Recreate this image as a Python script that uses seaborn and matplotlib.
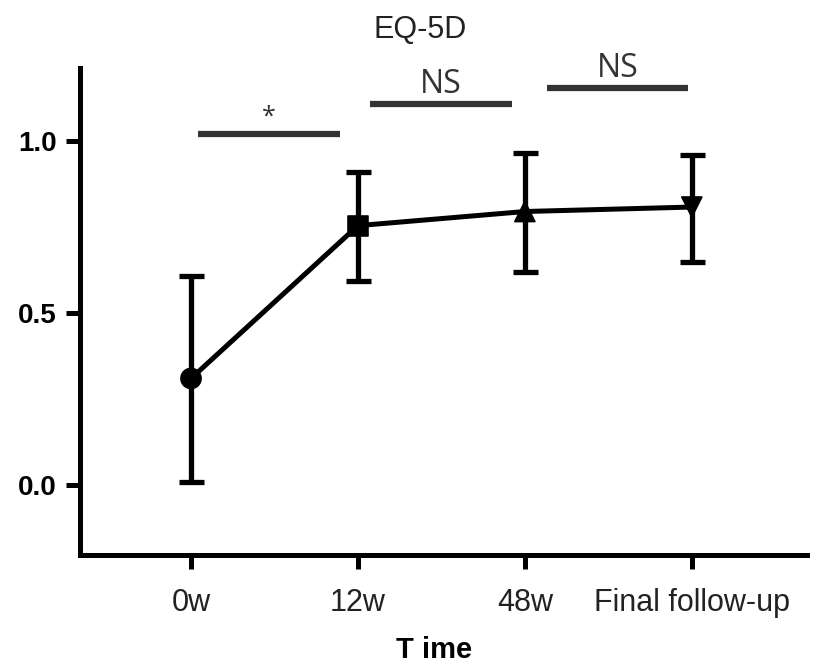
import matplotlib
matplotlib.use("Agg")
import matplotlib.pyplot as plt
import matplotlib.transforms as mtransforms
import seaborn as sns
import pandas as pd

# ---- data ----
timepoints = ["0w", "12w", "48w", "Final follow-up"]
means = [0.31, 0.754, 0.795, 0.808]
upper = [0.608, 0.911, 0.965, 0.960]
lower = [0.009, 0.593, 0.619, 0.648]
markers = ["o", "s", "^", "v"]
sig_labels = ["*", "NS", "NS"]
sig_y = [1.020, 1.108, 1.154]
sig_x0 = [0.04, 1.07, 2.13]
sig_x1 = [0.89, 1.92, 2.98]
yticks = [0.0, 0.5, 1.0]

sns.set_theme(style="white")
plt.rcParams['font.family'] = ['Liberation Sans', 'DejaVu Sans']

fig = plt.figure(figsize=(8.16, 6.68), dpi=100)
ax = fig.add_axes([80/816, 1-555/668, (807-80)/816, (555-68)/668])

pos = list(range(len(timepoints)))
df = pd.DataFrame({"pos": pos, "mean": means, "tp": timepoints})

yerr = [[m - l for m, l in zip(means, lower)], [u - m for u, m in zip(upper, means)]]
ax.errorbar(pos, means, yerr=yerr, fmt="none", ecolor="black", elinewidth=3.8,
            capsize=9, capthick=3.8, zorder=2)
sns.lineplot(data=df, x="pos", y="mean", color="black", lw=3.6, ax=ax, zorder=3)
sns.scatterplot(data=df, x="pos", y="mean", style="tp", markers=dict(zip(timepoints, markers)),
                color="black", s=210, edgecolor="black", legend=False, ax=ax, zorder=4)

for lab, y, x0, x1 in zip(sig_labels, sig_y, sig_x0, sig_x1):
    ax.plot([x0, x1], [y, y], color="#333333", lw=4.5, solid_capstyle="butt", zorder=2)
    if lab == "*":
        ax.text((x0 + x1) / 2, y + 0.012, lab, ha="center", va="bottom", fontsize=18,
                color="#333333", family=["Open Sans", "DejaVu Sans"])
    else:
        ax.text((x0 + x1) / 2, y + 0.008, lab, ha="center", va="bottom", fontsize=23,
                color="#333333", family=["Open Sans", "DejaVu Sans"])

ax.set_xlim(-0.665, 3.69)
ax.set_ylim(-0.203, 1.212)
ax.set_xticks(pos)
ax.set_xticklabels(timepoints, fontsize=22, color="#222222")
ax.set_yticks(yticks)
ax.set_yticklabels([f"{v:.1f}" for v in yticks], fontsize=20, fontweight="bold", color="black")
ax.set_xlabel("")
ax.set_ylabel("")

# the last tick label sits slightly right of its tick in the reference
last = ax.get_xticklabels()[-1]
last.set_transform(last.get_transform() + mtransforms.ScaledTranslation(16/100, 0, fig.dpi_scale_trans))

for side in ["top", "right"]:
    ax.spines[side].set_visible(False)
for side in ["left", "bottom"]:
    ax.spines[side].set_linewidth(3.6)
    ax.spines[side].set_color("black")
ax.tick_params(axis="both", direction="out", length=10, width=3.6, color="black", left=True, bottom=True)
ax.tick_params(axis="x", pad=14)
ax.tick_params(axis="y", pad=7)

fig.text(420/816, 1-30/668, "EQ-5D", ha="center", va="center", fontsize=22, color="#222222")
fig.text(434/816, 1-650/668, "T ime", ha="center", va="center", fontsize=21,
         fontweight="bold", color="black")

fig.savefig("out.png", dpi=100)
